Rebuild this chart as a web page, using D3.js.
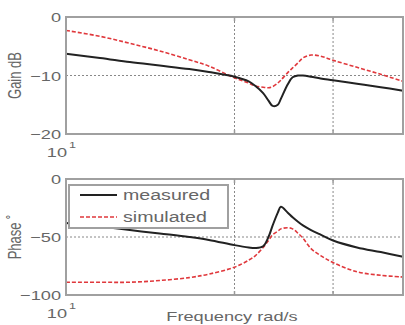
<!DOCTYPE html>
<html>
<head>
<meta charset="utf-8">
<script src="https://cdn.jsdelivr.net/npm/d3@7/dist/d3.min.js"></script>
<style>
  body { margin: 0; background: #fff; }
  svg { display: block; font-family: "Liberation Sans", Arial, sans-serif; }
  .frame { fill: none; stroke: #a0a0a0; stroke-width: 2; }
  .grid { stroke: #888; stroke-width: 1; stroke-dasharray: 2,2; }
  .lbl { fill: #666; }
</style>
</head>
<body>
<svg id="chart" width="405" height="325"></svg>
<script>
var freq = [10, 11.5, 13, 14.7, 16.6, 18, 20, 21.2, 21.8, 22.5, 23, 23.4, 23.9, 24.2, 24.9, 25.4, 26, 26.5, 27.4, 28.5, 30, 33.1, 36.5, 40]

var gainMeasured = [-6.3, -7.0, -7.7, -8.3, -8.9, -9.4, -10.2, -11.0, -11.8, -13.0, -14.3, -15.2, -15.0, -14.0, -11.5, -10.3, -10.0, -10.0, -10.2, -10.5, -10.8, -11.4, -12.0, -12.6]
var gainSimulated = [-2.3, -3.3, -4.5, -5.8, -7.3, -8.4, -10.4, -11.3, -11.8, -12.0, -12.1, -11.9, -11.3, -10.8, -9.5, -8.7, -7.8, -7.0, -6.5, -6.7, -7.4, -8.6, -9.8, -11.0]

var phaseMeasured = [-38, -41, -44, -47, -50, -52.5, -57, -59, -59.5, -58, -50, -40, -29, -24, -29, -33, -37, -40, -44, -48, -53, -59, -63, -67]
var phaseSimulated = [-89, -89, -89, -87.5, -85, -82, -76, -70, -66, -59, -53, -48, -45, -43, -42, -43, -47, -51, -60, -66, -72, -80, -83, -84.5]

var gainTicks = [0, -10, -20]
var phaseTicks = [0, -50, -100]
var freqGrid = [20, 30]
var seriesNames = ['measured', 'simulated']

var svg = d3.select('#chart')
var sx = 1.4  // text in the picture is stretched sideways

var x = d3.scaleLog().domain([10, 40]).range([66, 403])

function addText (g, txt, px, py, opts) {
  opts = opts || {}
  var t = g.append('text')
      .attr('class', 'lbl')
      .attr('transform', 'translate(' + px + ',' + py + ') scale(' + sx + ',1)' + (opts.rotate ? ' rotate(' + opts.rotate + ')' : ''))
      .attr('font-size', opts.size || 13)
      .attr('text-anchor', opts.anchor || 'start')
      .text(txt)
  return t
}

function renderPanel (p) {
  var y = d3.scaleLinear().domain(p.domain).range(p.range)
  var g = svg.append('g')
  var top = p.range[1], bottom = p.range[0]

  // grid
  g.selectAll('.hgrid').data([p.ticks[1]]).join('line')
      .attr('class', 'grid')
      .attr('x1', x.range()[0]).attr('x2', x.range()[1])
      .attr('y1', y).attr('y2', y)
  g.selectAll('.vgrid').data(freqGrid).join('line')
      .attr('class', 'grid')
      .attr('x1', x).attr('x2', x)
      .attr('y1', top).attr('y2', bottom)

  var line = d3.line()
      .x(function (d, i) { return x(freq[i]) })
      .y(function (d) { return y(d) })
      .curve(d3.curveCatmullRom)

  g.append('path')
      .datum(p.simulated)
      .attr('d', line)
      .attr('fill', 'none')
      .attr('stroke', '#e0383c')
      .attr('stroke-width', 1.6)
      .attr('stroke-dasharray', '4,2')

  g.append('path')
      .datum(p.measured)
      .attr('d', line)
      .attr('fill', 'none')
      .attr('stroke', '#222')
      .attr('stroke-width', 2)

  g.append('rect')
      .attr('class', 'frame')
      .attr('x', x.range()[0]).attr('y', top)
      .attr('width', x.range()[1] - x.range()[0])
      .attr('height', bottom - top)

  // small tick marks at the grid lines
  freqGrid.forEach(function (f) {
    g.append('line').attr('x1', x(f)).attr('x2', x(f)).attr('y1', top).attr('y2', top + 4)
        .attr('stroke', '#999').attr('stroke-width', 1.5)
    g.append('line').attr('x1', x(f)).attr('x2', x(f)).attr('y1', bottom).attr('y2', bottom - 4)
        .attr('stroke', '#999').attr('stroke-width', 1.5)
  })

  p.ticks.forEach(function (t) {
    addText(g, t === 0 ? '0' : '\u2212' + Math.abs(t), 61, y(t) + 5, { anchor: 'end' })
  })

  addText(g, '10', 67, bottom + 23, { anchor: 'end' })
  addText(g, '1', 69, bottom + 14, { size: 9 })

  addText(g, p.label, 21, (top + bottom) / 2, { anchor: 'middle', rotate: -90 })
  return g
}

renderPanel({
  domain: [-20, 0], range: [134, 17], ticks: gainTicks,
  measured: gainMeasured, simulated: gainSimulated, label: 'Gain dB'
})

renderPanel({
  domain: [-100, 0], range: [295, 179], ticks: phaseTicks,
  measured: phaseMeasured, simulated: phaseSimulated, label: 'Phase \u02da'
})

// legend
var lg = svg.append('g')
lg.append('rect')
    .attr('x', 69).attr('y', 185).attr('width', 159).attr('height', 43)
    .attr('fill', '#fff').attr('stroke', '#a0a0a0').attr('stroke-width', 2)

seriesNames.forEach(function (name, i) {
  var ly = 195 + i * 22
  lg.append('line')
      .attr('x1', 80).attr('x2', 117).attr('y1', ly).attr('y2', ly)
      .attr('stroke', i === 0 ? '#222' : '#e0383c')
      .attr('stroke-width', i === 0 ? 2 : 1.6)
      .attr('stroke-dasharray', i === 0 ? null : '4,2')
  addText(lg, name, 123, ly + 5, { size: 14 }).attr('fill', '#222')
})

addText(svg, 'Frequency rad/s', 232, 321, { anchor: 'middle' })
</script>
</body>
</html>
